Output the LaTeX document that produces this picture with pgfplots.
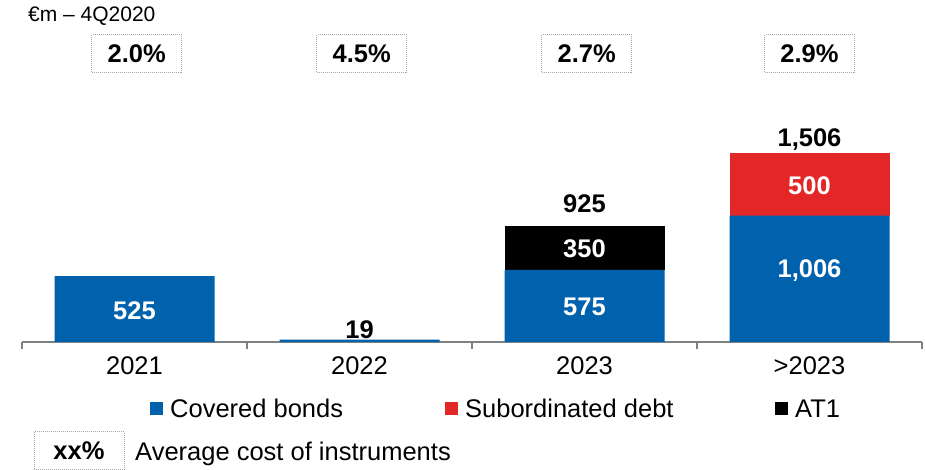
\documentclass[border=0pt]{standalone}
\usepackage{fontspec}
\setmainfont{Liberation Sans}
\usepackage{pgfplots}
\pgfplotsset{compat=1.18}
\definecolor{cbblue}{RGB}{0,97,173}
\definecolor{sdred}{RGB}{227,39,38}
\definecolor{axgray}{RGB}{128,128,128}
\newcommand{\bigtxt}{\fontsize{25.5}{30}\selectfont}
\newcommand{\bignum}{\fontsize{25.5}{30}\selectfont\bfseries}
\begin{document}
\begin{tikzpicture}[x=1pt,y=1pt,
  costbox/.style={draw=black!35, densely dotted, line width=1pt, minimum width=90pt, minimum height=38pt, inner sep=0pt, font=\bignum},
  vlab/.style={anchor=base, inner sep=0pt, font=\bignum}]
\useasboundingbox (0,0) rectangle (925,470);
\begin{axis}[
  at={(22pt,128pt)}, anchor=south west,
  scale only axis, width=900pt, height=189pt,
  ybar stacked, bar width=160pt,
  xmin=-0.5, xmax=3.5, ymin=0, ymax=1506,
  enlargelimits=false, clip=false,
  axis y line=none, axis x line*=bottom,
  x axis line style={axgray, line width=1.6pt},
  xtick={0,1,2,3}, xticklabels={2021,2022,2023,{>2023}},
  major x tick style={draw=none},
  minor xtick={-0.5,0.5,1.5,2.5,3.5},
  minor x tick style={axgray, line width=1.6pt},
  minor tick length=7pt, tick align=outside,
  x tick label style={font=\bigtxt, inner sep=0pt, yshift=-10pt},
  legend columns=3,
  legend style={draw=none, fill=none, at={(0.1422,-0.3545)}, anchor=west, inner sep=0pt, font=\bigtxt, nodes={inner sep=0pt}, /tikz/every even column/.append style={column sep=0pt}},
  legend image code/.code={\fill[#1] (0pt,-6.5pt) rectangle (13pt,6.5pt); \path (20pt,0pt);},
]
\addplot[fill=cbblue, draw=none] coordinates {(0,525) (1,19) (2,575) (3,1006)};
\addplot[fill=sdred, draw=none] coordinates {(0,0) (1,0) (2,0) (3,500)};
\addplot[fill=black, draw=none] coordinates {(0,0) (1,0) (2,350) (3,0)};
\addlegendentry{\makebox[275pt][l]{Covered bonds}}
\addlegendentry{\makebox[310pt][l]{Subordinated debt}}
\addlegendentry{AT1}
% label positions
\coordinate (l525) at (axis cs:0,181);
\coordinate (l19) at (axis cs:1,29.5);
\coordinate (l575) at (axis cs:2,212.7);
\coordinate (l350) at (axis cs:2,675);
\coordinate (l925) at (axis cs:2,1033);
\coordinate (l1006) at (axis cs:3,515.5);
\coordinate (l500) at (axis cs:3,1177);
\coordinate (l1506) at (axis cs:3,1559);
\coordinate (b0) at (axis cs:0.01,2295);
\coordinate (b1) at (axis cs:1.01,2295);
\coordinate (b2) at (axis cs:2.01,2295);
\coordinate (b3) at (axis cs:3.0,2295);
\end{axis}
\node[vlab, text=white] at (l525) {525};
\node[vlab] at (l19) {19};
\node[vlab, text=white] at (l575) {575};
\node[vlab, text=white] at (l350) {350};
\node[vlab] at (l925) {925};
\node[vlab, text=white] at (l1006) {1,006};
\node[vlab, text=white] at (l500) {500};
\node[vlab] at (l1506) {1,506};
\node[costbox] at (b0) {2.0\%};
\node[costbox] at (b1) {4.5\%};
\node[costbox] at (b2) {2.7\%};
\node[costbox] at (b3) {2.9\%};
\node[anchor=base west, inner sep=0pt, font=\fontsize{21}{25}\selectfont] at (28,448.5) {€m – 4Q2020};
\node[costbox] at (79,19) {xx\%};
\node[anchor=base west, inner sep=0pt, font=\bigtxt] at (135,9) {Average cost of instruments};
\end{tikzpicture}
\end{document}
